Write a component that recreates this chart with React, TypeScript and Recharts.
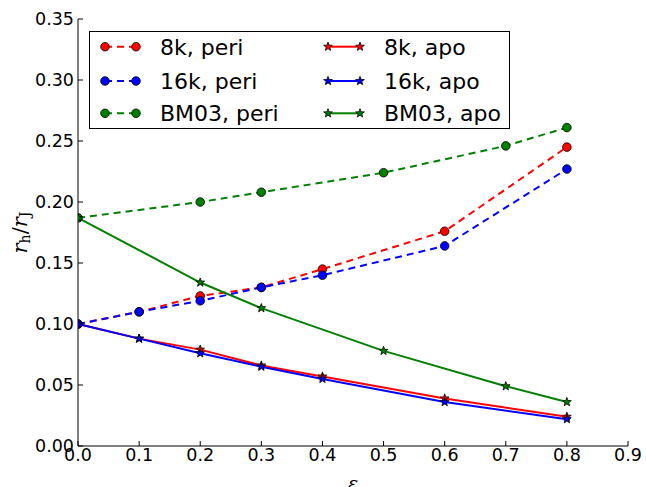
import {
  Legend,
  Line,
  LineChart,
  XAxis,
  YAxis,
  Label,
} from "recharts";

const eps = [0, 0.1, 0.2, 0.3, 0.4, 0.6, 0.8];
const peri8k = [0.1, 0.11, 0.123, 0.13, 0.145, 0.176, 0.245];
const peri16k = [0.1, 0.11, 0.119, 0.13, 0.14, 0.164, 0.227];
const apo8k = [0.1, 0.088, 0.079, 0.066, 0.057, 0.039, 0.024];
const apo16k = [0.1, 0.088, 0.076, 0.065, 0.055, 0.036, 0.022];

const epsBM03 = [0, 0.2, 0.3, 0.5, 0.7, 0.8];
const periBM03 = [0.187, 0.2, 0.208, 0.224, 0.246, 0.261];
const apoBM03 = [0.187, 0.134, 0.113, 0.078, 0.049, 0.036];

const xTicks = [0, 0.1, 0.2, 0.3, 0.4, 0.5, 0.6, 0.7, 0.8, 0.9];
const yTicks = [0, 0.05, 0.1, 0.15, 0.2, 0.25, 0.3, 0.35];

const FONT = "DejaVu Sans";
const MATH = "DejaVu Serif";

type Series = {
  name: string;
  color: string;
  peri: boolean;
  xs: number[];
  ys: number[];
};

const series: Series[] = [
  { name: "8k, peri", color: "#ff0000", peri: true, xs: eps, ys: peri8k },
  { name: "16k, peri", color: "#0000ff", peri: true, xs: eps, ys: peri16k },
  { name: "BM03, peri", color: "#008000", peri: true, xs: epsBM03, ys: periBM03 },
  { name: "8k, apo", color: "#ff0000", peri: false, xs: eps, ys: apo8k },
  { name: "16k, apo", color: "#0000ff", peri: false, xs: eps, ys: apo16k },
  { name: "BM03, apo", color: "#008000", peri: false, xs: epsBM03, ys: apoBM03 },
];

function starPoints(cx: number, cy: number, ro: number, ri: number) {
  const pts: string[] = [];
  for (let i = 0; i < 10; i++) {
    const r = i % 2 === 0 ? ro : ri;
    const a = -Math.PI / 2 + (i * Math.PI) / 5;
    pts.push(`${cx + r * Math.cos(a)},${cy + r * Math.sin(a)}`);
  }
  return pts.join(" ");
}

function Marker({ cx, cy, color, peri }: { cx: number; cy: number; color: string; peri: boolean }) {
  if (peri)
    return <circle cx={cx} cy={cy} r={4.3} fill={color} stroke="#000" strokeWidth={0.8} />;
  return (
    <polygon
      points={starPoints(cx, cy, 4.6, 1.9)}
      fill={color}
      stroke="#000"
      strokeWidth={0.8}
    />
  );
}

function LegendBox() {
  const rows = [15.7, 50, 82.3];
  return (
    <svg width={421} height={98} style={{ display: "block" }}>
      <rect x={0.5} y={0.5} width={420} height={97} fill="#fff" stroke="#000" strokeWidth={1} />
      {series.map((s, i) => {
        const col = s.peri ? 0 : 1;
        const cy = rows[i % 3];
        const x1 = col === 0 ? 16 : 239;
        const x2 = col === 0 ? 47 : 271;
        const tx = col === 0 ? 71 : 295;
        return (
          <g key={s.name}>
            <line
              x1={x1}
              y1={cy}
              x2={x2}
              y2={cy}
              stroke={s.color}
              strokeWidth={2}
              strokeDasharray={s.peri ? "7 5" : undefined}
            />
            <Marker cx={x1} cy={cy} color={s.color} peri={s.peri} />
            <Marker cx={x2} cy={cy} color={s.color} peri={s.peri} />
            <text x={tx} y={cy + 8} fontSize={22} fontFamily={FONT} fill="#000">
              {s.name}
            </text>
          </g>
        );
      })}
    </svg>
  );
}

function YLabel(props: any) {
  const vb = props.viewBox || {};
  const cy = (vb.y ?? 19) + (vb.height ?? 427) / 2;
  const x = 27;
  return (
    <text
      x={x}
      y={cy}
      transform={`rotate(-90 ${x} ${cy})`}
      textAnchor="middle"
      fontFamily={MATH}
      fontSize={21}
      fill="#000"
    >
      <tspan fontStyle="italic">r</tspan>
      <tspan fontSize={14} dy={3}>h</tspan>
      <tspan dy={-3}>/</tspan>
      <tspan fontStyle="italic">r</tspan>
      <tspan fontSize={14} dy={3}>J</tspan>
    </text>
  );
}

function XLabel(props: any) {
  const vb = props.viewBox || {};
  const cx = (vb.x ?? 78) + (vb.width ?? 550) / 2;
  return (
    <text x={cx} y={490} textAnchor="middle" fontFamily={MATH} fontStyle="italic" fontSize={19} fill="#000">
      ε
    </text>
  );
}

export default function App() {
  const tickStyle = { fill: "#000", fontSize: 17.5, fontFamily: FONT };
  return (
    <div style={{ position: "absolute", left: 0, top: 0 }}>
      <LineChart width={646} height={487} margin={{ top: 19, right: 18, bottom: 0, left: 0 }}>
        <XAxis
          dataKey="x"
          type="number"
          domain={[0, 0.9]}
          ticks={xTicks}
          allowDataOverflow
          tickFormatter={(v: number) => v.toFixed(1)}
          height={41}
          tickSize={-5}
          tickMargin={8}
          tick={tickStyle}
          stroke="#000"
          axisLine={{ stroke: "#000", strokeWidth: 1 }}
          tickLine={{ stroke: "#000" }}
        >
          <Label content={XLabel} />
        </XAxis>
        <XAxis
          xAxisId="top"
          orientation="top"
          type="number"
          domain={[0, 0.9]}
          ticks={xTicks}
          allowDataOverflow
          height={0}
          tick={false}
          tickSize={-5}
          axisLine={{ stroke: "#000", strokeWidth: 1 }}
          tickLine={{ stroke: "#000" }}
        />
        <YAxis
          type="number"
          domain={[0, 0.35]}
          ticks={yTicks}
          allowDataOverflow
          tickFormatter={(v: number) => v.toFixed(2)}
          width={78}
          tickSize={-5}
          tickMargin={9}
          tick={tickStyle}
          axisLine={{ stroke: "#000", strokeWidth: 1 }}
          tickLine={{ stroke: "#000" }}
        >
          <Label content={YLabel} />
        </YAxis>
        <YAxis
          yAxisId="right"
          orientation="right"
          type="number"
          domain={[0, 0.35]}
          ticks={yTicks}
          allowDataOverflow
          width={0}
          tick={false}
          tickSize={-5}
          axisLine={{ stroke: "#000", strokeWidth: 1 }}
          tickLine={{ stroke: "#000" }}
        />
        <Legend
          layout="vertical"
          align="center"
          verticalAlign="middle"
          wrapperStyle={{ left: 89, top: 31, width: 421, height: 98 }}
          content={() => <LegendBox />}
        />
        {series.map((s) => (
          <Line
            key={s.name}
            name={s.name}
            data={s.xs.map((x, i) => ({ x, y: s.ys[i] }))}
            dataKey="y"
            type="linear"
            stroke={s.color}
            strokeWidth={2}
            strokeDasharray={s.peri ? "7 5" : undefined}
            isAnimationActive={false}
            dot={(p: any) => (
              <Marker key={`${s.name}-${p.index}`} cx={p.cx} cy={p.cy} color={s.color} peri={s.peri} />
            )}
            activeDot={false}
          />
        ))}
      </LineChart>
    </div>
  );
}
